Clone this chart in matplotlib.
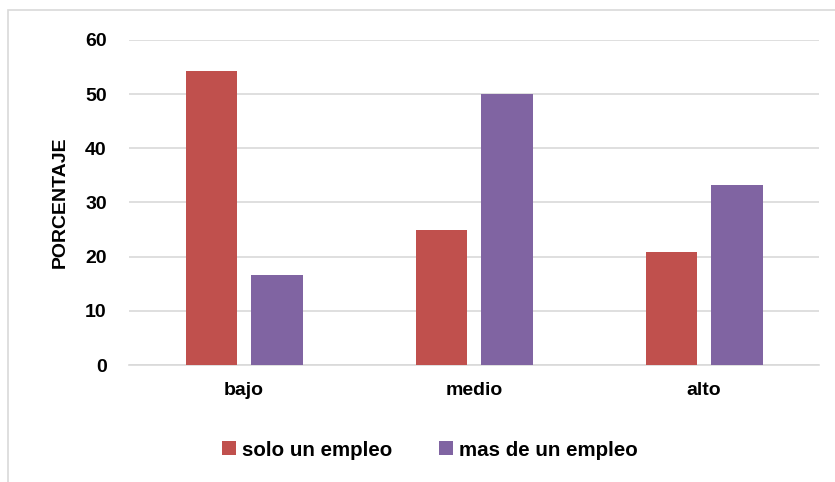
import matplotlib
matplotlib.use("Agg")
import matplotlib.pyplot as plt
from matplotlib.patches import Rectangle
import numpy as np

categories = ["bajo", "medio", "alto"]
series_names = ["solo un empleo", "mas de un empleo"]
solo_un_empleo = [54.2, 25.0, 20.8]
mas_de_un_empleo = [16.7, 50.0, 33.3]
y_ticks = [0, 10, 20, 30, 40, 50, 60]

colors = ["#C0504D", "#8064A2"]
font = "Liberation Sans"
fs = 14

fig = plt.figure(figsize=(8.35, 4.82), dpi=100)
W, H = 835, 482

# outer chart frame (extends past the right and bottom edges)
fig.patches.append(Rectangle((8 / W, -0.1), 1.2, (H - 10) / H + 0.1,
                             transform=fig.transFigure, fill=False,
                             edgecolor="#D9D9D9", linewidth=1.2))

ax = fig.add_axes([129 / W, 1 - 365 / H, (819 - 129) / W, (365 - 40) / H])

x = np.arange(len(categories))
bw = 0.222
ax.bar(x - 0.1415, solo_un_empleo, bw, color=colors[0], label=series_names[0],
       linewidth=0, zorder=3)
ax.bar(x + 0.1435, mas_de_un_empleo, bw, color=colors[1], label=series_names[1],
       linewidth=0, zorder=3)

ax.set_xlim(-0.5, len(categories) - 0.5)
ax.set_ylim(0, 60)
ax.set_yticks(y_ticks)
ax.yaxis.grid(True, color="#D9D9D9", linewidth=1.2, zorder=0)
ax.set_axisbelow(True)
for s in ["top", "right", "left"]:
    ax.spines[s].set_visible(False)
ax.spines["bottom"].set_color("#D9D9D9")
ax.spines["bottom"].set_linewidth(1.2)
ax.tick_params(length=0)
ax.tick_params(axis="y", pad=16)
ax.tick_params(axis="x", pad=12)
ax.set_xticks(x)
ax.set_xticklabels(categories)
for lab in ax.get_xticklabels() + ax.get_yticklabels():
    lab.set_fontfamily(font)
    lab.set_fontweight("bold")
    lab.set_fontsize(fs)
    lab.set_color("black")

fig.text(60 / W, 1 - 202 / H, "PORCENTAJE", rotation=90, ha="center", va="center",
         fontfamily=font, fontweight="bold", fontsize=fs)

leg = fig.legend(loc="center", bbox_to_anchor=(430 / W, 1 - 450 / H), ncol=2,
                 frameon=False, handlelength=0.65, handleheight=0.65,
                 handletextpad=0.3, columnspacing=2.3,
                 prop={"family": font, "weight": "bold", "size": 14.8})

fig.savefig("out.png", dpi=100, facecolor="white")
